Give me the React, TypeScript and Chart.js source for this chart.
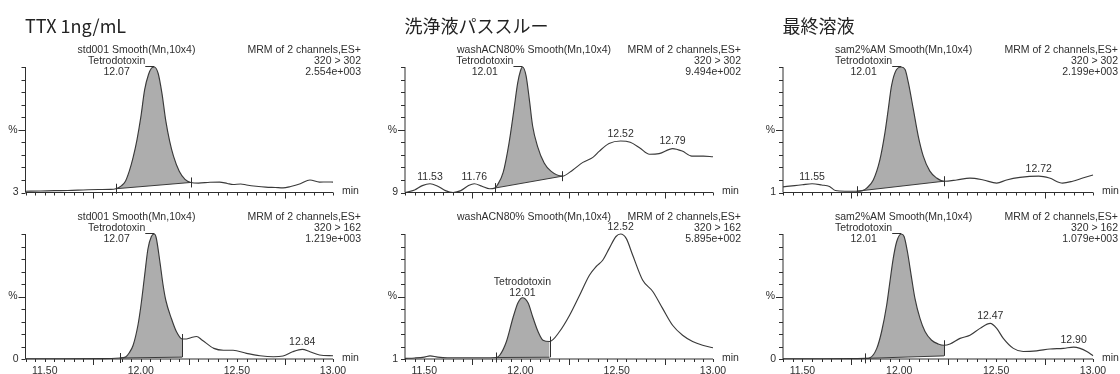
import { useEffect, useRef } from 'react';
import { Chart, registerables } from 'chart.js';

Chart.register(...registerables);

const W = 1120;
const H = 374;

// Shared retention-time window (min) and axis labels
const rtMin = 11.4;
const rtMax = 13.0;
const xTickLabels = ['11.50', '12.00', '12.50', '13.00'];

const columnTitles = ['TTX 1ng/mL', '洗浄液パススルー', '最終溶液'];
const sampleNames = ['std001', 'washACN80%', 'sam2%AM'];
const processing = 'Smooth(Mn,10x4)';
const scanInfo = 'MRM of 2 channels,ES+';
const transitions = ['320 > 302', '320 > 162'];
const compound = 'Tetrodotoxin';

// Full-scale intensity of each trace: [320>302, 320>162]
const std001Scale = ['2.554e+003', '1.219e+003'];
const washScale = ['9.494e+002', '5.895e+002'];
const samScale = ['2.199e+003', '1.079e+003'];

// Offset printed at the foot of each % axis
const std001Offset = ['3', '0'];
const washOffset = ['9', '1'];
const samOffset = ['1', '0'];

// ---- std001, 320 > 302 ----
const std302Rt = [11.40, 11.48, 11.55, 11.62, 11.70, 11.78, 11.84, 11.87, 11.90, 11.92, 11.94, 11.96, 11.98, 12.00, 12.02, 12.04, 12.055, 12.07, 12.09, 12.11, 12.13, 12.15, 12.17, 12.20, 12.23, 12.26, 12.30, 12.36, 12.41, 12.45, 12.48, 12.52, 12.55, 12.60, 12.65, 12.70, 12.74, 12.78, 12.83, 12.88, 12.93, 12.97, 13.00];
const std302Pct = [1.0, 1.2, 1.5, 1.6, 2.0, 2.4, 2.5, 3.0, 5.5, 9.0, 17, 28, 42, 60, 82, 94, 99, 100, 95, 79, 57, 41, 29, 17, 10.5, 8.0, 7.5, 8.2, 8.3, 7.2, 6.4, 6.8, 6.0, 5.0, 4.3, 4.0, 3.7, 4.8, 7.0, 10.0, 8.3, 8.4, 8.3];
const std302Window = [11.87, 12.26];
const std302Base = [3.0, 8.0];
const std302Ttx = 12.07;
const std302Peaks: number[] = [];

// ---- std001, 320 > 162 ----
const std162Rt = [11.40, 11.60, 11.80, 11.89, 11.92, 11.94, 11.96, 11.985, 12.00, 12.02, 12.037, 12.055, 12.07, 12.08, 12.10, 12.115, 12.13, 12.16, 12.185, 12.215, 12.237, 12.26, 12.29, 12.32, 12.38, 12.43, 12.48, 12.55, 12.62, 12.69, 12.74, 12.79, 12.84, 12.88, 12.93, 13.00];
const std162Pct = [0.2, 0.2, 0.3, 0.8, 1.5, 5, 11, 27, 42, 67, 88, 98, 100, 97, 77, 60, 47, 32, 22, 16, 16, 17, 18, 15, 8.5, 7, 7, 4.5, 2.6, 1.8, 2.4, 5.8, 7.7, 5.8, 3.2, 2.6];
const std162Window = [11.89, 12.215];
const std162Base = [0.8, 1.5];
const std162Ttx = 12.07;
const std162Peaks = [12.84];

// ---- washACN80%, 320 > 302 ----
const wash302Rt = [11.40, 11.45, 11.49, 11.53, 11.57, 11.61, 11.65, 11.69, 11.73, 11.76, 11.80, 11.84, 11.866, 11.88, 11.91, 11.94, 11.965, 11.985, 12.00, 12.01, 12.029, 12.046, 12.063, 12.088, 12.123, 12.158, 12.217, 12.272, 12.324, 12.376, 12.41, 12.46, 12.52, 12.57, 12.62, 12.67, 12.72, 12.79, 12.84, 12.89, 12.95, 13.00];
const wash302Pct = [0, 2, 5.5, 7, 5, 1.5, 0, 1.5, 5.5, 7, 5, 3, 3.5, 6, 16, 39, 65, 87, 97, 100, 93, 74, 53, 37, 23.5, 17, 13, 18, 24, 28, 33, 39, 41, 40, 35.5, 30.5, 31, 35, 33, 29, 29, 28.5];
const wash302Window = [11.866, 12.217];
const wash302Base = [3.5, 13];
const wash302Ttx = 12.01;
const wash302Peaks = [11.53, 11.76, 12.52, 12.79];

// ---- washACN80%, 320 > 162 ----
const wash162Rt = [11.40, 11.45, 11.50, 11.53, 11.57, 11.62, 11.70, 11.80, 11.872, 11.892, 11.927, 11.961, 11.987, 12.01, 12.039, 12.065, 12.091, 12.117, 12.151, 12.203, 12.255, 12.307, 12.358, 12.393, 12.427, 12.461, 12.496, 12.52, 12.549, 12.583, 12.635, 12.687, 12.738, 12.79, 12.842, 12.894, 12.946, 13.00];
const wash162Pct = [0.5, 0.8, 1.5, 2.5, 1.5, 1.0, 1.0, 1.0, 1.2, 3, 14, 33, 45, 49, 45, 33, 22, 15, 14, 22, 35, 51, 67, 74, 79, 88.5, 98, 100, 96.5, 83, 63, 54, 40.5, 27, 19, 14, 11, 9];
const wash162Window = [11.872, 12.151];
const wash162Base = [1.2, 1.4];
const wash162Ttx = 12.01;
const wash162Peaks = [12.52];

// ---- sam2%AM, 320 > 302 ----
const sam302Rt = [11.40, 11.46, 11.50, 11.55, 11.60, 11.64, 11.67, 11.72, 11.78, 11.81, 11.832, 11.866, 11.90, 11.926, 11.943, 11.96, 11.986, 12.01, 12.03, 12.047, 12.073, 12.098, 12.124, 12.158, 12.193, 12.231, 12.296, 12.365, 12.434, 12.503, 12.554, 12.623, 12.72, 12.775, 12.843, 12.895, 12.947, 13.00];
const sam302Pct = [4.5, 5.5, 6.2, 7, 6, 4.8, 1.6, 1.0, 1.0, 1.5, 3.5, 10, 26, 47.5, 66, 85, 98, 100, 98, 87.5, 66, 45, 29, 17, 11.5, 9, 10, 11.5, 10, 7.5, 10, 12, 13, 11.5, 7.5, 9, 11.5, 14];
const sam302Window = [11.78, 12.231];
const sam302Base = [1.0, 9.0];
const sam302Ttx = 12.01;
const sam302Peaks = [11.55, 12.72];

// ---- sam2%AM, 320 > 162 ----
const sam162Rt = [11.40, 11.60, 11.75, 11.823, 11.849, 11.884, 11.909, 11.935, 11.952, 11.969, 11.987, 12.01, 12.025, 12.042, 12.064, 12.081, 12.107, 12.133, 12.167, 12.201, 12.231, 12.262, 12.314, 12.365, 12.417, 12.47, 12.503, 12.537, 12.589, 12.64, 12.709, 12.778, 12.847, 12.90, 12.933, 12.968, 13.00];
const sam162Pct = [0.2, 0.2, 0.3, 0.5, 1.0, 8.5, 22, 43, 62, 80.5, 94, 100, 98, 86, 64.5, 48.5, 32.5, 22, 15, 12, 11, 12, 16.5, 19, 24.5, 28.5, 24.5, 16.5, 8.5, 6, 6.5, 8, 8.5, 9.5, 8.5, 6, 2.6];
const sam162Window = [11.823, 12.231];
const sam162Base = [0.5, 2.5];
const sam162Ttx = 12.01;
const sam162Peaks = [12.47, 12.90];

// ---- drawing style and placement ----
const INK = '#2f2f2f';
const TRACE = '#3a3a3a';
const AREA = '#adadad';
const FONT = '10.5px "Liberation Sans", Arial, sans-serif';
const TITLE_FONT = '18px "Noto Sans CJK JP", sans-serif';

const colLeft = [25.5, 405, 783];
const colRight = [333, 713, 1093];
const rowTop = [67, 234];
const rowBottom = [192.5, 359];

type Tag = 'side' | 'above';

interface Trace {
  rt: number[];
  pct: number[];
  window: number[];
  base: number[];
  ttx: number;
  tag: Tag;
  peaks: number[];
}

interface PanelSpec {
  col: number;
  row: number;
  trace: Trace;
  sample: string;
  transition: string;
  scale: string;
  offset: string;
}

const panels: PanelSpec[] = [
  { col: 0, row: 0, sample: sampleNames[0], transition: transitions[0], scale: std001Scale[0], offset: std001Offset[0],
    trace: { rt: std302Rt, pct: std302Pct, window: std302Window, base: std302Base, ttx: std302Ttx, tag: 'side', peaks: std302Peaks } },
  { col: 0, row: 1, sample: sampleNames[0], transition: transitions[1], scale: std001Scale[1], offset: std001Offset[1],
    trace: { rt: std162Rt, pct: std162Pct, window: std162Window, base: std162Base, ttx: std162Ttx, tag: 'side', peaks: std162Peaks } },
  { col: 1, row: 0, sample: sampleNames[1], transition: transitions[0], scale: washScale[0], offset: washOffset[0],
    trace: { rt: wash302Rt, pct: wash302Pct, window: wash302Window, base: wash302Base, ttx: wash302Ttx, tag: 'side', peaks: wash302Peaks } },
  { col: 1, row: 1, sample: sampleNames[1], transition: transitions[1], scale: washScale[1], offset: washOffset[1],
    trace: { rt: wash162Rt, pct: wash162Pct, window: wash162Window, base: wash162Base, ttx: wash162Ttx, tag: 'above', peaks: wash162Peaks } },
  { col: 2, row: 0, sample: sampleNames[2], transition: transitions[0], scale: samScale[0], offset: samOffset[0],
    trace: { rt: sam302Rt, pct: sam302Pct, window: sam302Window, base: sam302Base, ttx: sam302Ttx, tag: 'side', peaks: sam302Peaks } },
  { col: 2, row: 1, sample: sampleNames[2], transition: transitions[1], scale: samScale[1], offset: samOffset[1],
    trace: { rt: sam162Rt, pct: sam162Pct, window: sam162Window, base: sam162Base, ttx: sam162Ttx, tag: 'side', peaks: sam162Peaks } },
];

function pctAt(tr: Trace, rt: number): number {
  const i = tr.rt.findIndex((v) => Math.abs(v - rt) < 1e-9);
  return i >= 0 ? tr.pct[i] : 0;
}

// Axes, tick marks, header text and peak annotations for one chromatogram
function decorPlugin(p: PanelSpec) {
  return {
    id: 'chromDecor',
    afterDatasetsDraw(chart: any) {
      const { ctx, chartArea: a } = chart;
      const xs = chart.scales.x;
      const ys = chart.scales.y;
      const px = (v: number) => xs.getPixelForValue(v);
      const py = (v: number) => ys.getPixelForValue(v);
      const tr = p.trace;
      const yb = py(0);

      ctx.save();
      ctx.strokeStyle = INK;
      ctx.fillStyle = INK;
      ctx.lineWidth = 1;

      // axis lines and ticks
      ctx.beginPath();
      ctx.moveTo(a.left, yb);
      ctx.lineTo(a.right, yb);
      ctx.moveTo(a.left, yb);
      ctx.lineTo(a.left, py(100));
      const nx = Math.round((rtMax - rtMin) / 0.05);
      for (let i = 0; i <= nx; i++) {
        const x = Math.round(px(rtMin + i * 0.05)) + 0.5;
        const len = i % 10 === 7 ? 6 : 3;
        ctx.moveTo(x, yb);
        ctx.lineTo(x, yb + len);
      }
      for (let k = 0; k <= 10; k++) {
        const y = Math.round(py(k * 10)) + 0.5;
        const len = k === 5 ? 7 : 4;
        ctx.moveTo(a.left, y);
        ctx.lineTo(a.left - len, y);
      }
      ctx.stroke();

      ctx.font = FONT;
      ctx.textBaseline = 'middle';
      ctx.textAlign = 'right';
      ctx.fillText(p.offset, a.left - 7, yb);
      ctx.fillText('%', a.left - 8, py(50));
      ctx.textAlign = 'left';
      ctx.fillText('min', a.right + 9, yb - 1);

      if (p.row === 1) {
        ctx.textAlign = 'center';
        ctx.textBaseline = 'top';
        xTickLabels.forEach((l) => ctx.fillText(l, px(parseFloat(l)), yb + 7));
        ctx.textBaseline = 'middle';
      }

      // header block
      const rx = Math.min(a.right + 28, W - 2);
      ctx.textAlign = 'left';
      ctx.fillText(`${p.sample} ${processing}`, a.left + 52, a.top - 16.5);
      ctx.textAlign = 'right';
      ctx.fillText(scanInfo, rx, a.top - 16.5);
      ctx.fillText(p.transition, rx, a.top - 5.5);
      ctx.fillText(p.scale, rx, a.top + 5.5);

      // integration markers and closing edges
      tr.window.forEach((t, i) => {
        const x = Math.round(px(t)) + 0.5;
        const yt = py(pctAt(tr, t));
        const ybase = py(tr.base[i]);
        ctx.beginPath();
        ctx.moveTo(x, yt - 5);
        ctx.lineTo(x, yt + 5);
        ctx.moveTo(x, yt);
        ctx.lineTo(x, ybase);
        ctx.stroke();
      });

      // compound tag
      const ax = px(tr.ttx);
      const ay = py(pctAt(tr, tr.ttx));
      if (tr.tag === 'side') {
        const right = ax - 9;
        const w = ctx.measureText(compound).width;
        ctx.textAlign = 'right';
        ctx.fillText(compound, right, ay - 5.5);
        ctx.textAlign = 'center';
        ctx.fillText(tr.ttx.toFixed(2), right - w / 2, ay + 5.5);
        ctx.beginPath();
        ctx.moveTo(right, Math.round(ay) - 0.5);
        ctx.lineTo(ax, Math.round(ay) - 0.5);
        ctx.stroke();
      } else {
        ctx.textAlign = 'center';
        ctx.fillText(compound, ax, ay - 16);
        ctx.fillText(tr.ttx.toFixed(2), ax, ay - 4.5);
      }

      // retention-time labels of the other peaks
      ctx.textAlign = 'center';
      tr.peaks.forEach((rt) => {
        ctx.fillText(rt.toFixed(2), px(rt), py(pctAt(tr, rt)) - 7);
      });

      // column title
      if (p.row === 0) {
        ctx.font = TITLE_FONT;
        ctx.fillStyle = '#222';
        ctx.textAlign = 'left';
        ctx.fillText(columnTitles[p.col], a.left - 0.5, 26.5);
      }
      ctx.restore();
    },
  };
}

function buildConfig(p: PanelSpec): any {
  const tr = p.trace;
  const pts = tr.rt.map((x, i) => ({ x, y: tr.pct[i] }));
  const peak = pts.filter((q) => q.x >= tr.window[0] - 1e-9 && q.x <= tr.window[1] + 1e-9);
  const base = [
    { x: tr.window[0], y: tr.base[0] },
    { x: tr.window[1], y: tr.base[1] },
  ];
  const left = colLeft[p.col];
  const right = colRight[p.col];
  const top = rowTop[p.row];
  const bottom = rowBottom[p.row];
  return {
    type: 'line',
    data: {
      datasets: [
        {
          data: pts,
          borderColor: TRACE,
          borderWidth: 1.15,
          cubicInterpolationMode: 'monotone',
          pointRadius: 0,
          fill: false,
          order: 0,
          clip: 6,
        },
        {
          data: peak,
          borderColor: 'rgba(0,0,0,0)',
          borderWidth: 0,
          backgroundColor: AREA,
          cubicInterpolationMode: 'monotone',
          pointRadius: 0,
          fill: '+1',
          order: 2,
          clip: 6,
        },
        {
          data: base,
          borderColor: TRACE,
          borderWidth: 1,
          tension: 0,
          pointRadius: 0,
          fill: false,
          order: 1,
          clip: 6,
        },
      ],
    },
    options: {
      animation: false,
      responsive: false,
      maintainAspectRatio: false,
      events: [],
      layout: {
        padding: { left, right: W - right, top, bottom: H - bottom },
      },
      plugins: {
        legend: { display: false },
        tooltip: { enabled: false },
        title: { display: false },
      },
      scales: {
        x: { type: 'linear', min: rtMin, max: rtMax, display: false },
        y: { type: 'linear', min: 0, max: 100, display: false },
      },
    },
    plugins: [decorPlugin(p)],
  };
}

function PanelCanvas({ spec }: { spec: PanelSpec }) {
  const ref = useRef<HTMLCanvasElement>(null);
  useEffect(() => {
    if (!ref.current) return;
    const chart = new Chart(ref.current, buildConfig(spec));
    return () => chart.destroy();
  }, [spec]);
  return (
    <canvas
      ref={ref}
      width={W}
      height={H}
      style={{ position: 'absolute', left: 0, top: 0, width: W, height: H }}
    />
  );
}

export default function App() {
  return (
    <div style={{ position: 'absolute', left: 0, top: 0, width: W, height: H, background: '#fff', overflow: 'hidden' }}>
      {panels.map((p, i) => (
        <PanelCanvas key={i} spec={p} />
      ))}
    </div>
  );
}
